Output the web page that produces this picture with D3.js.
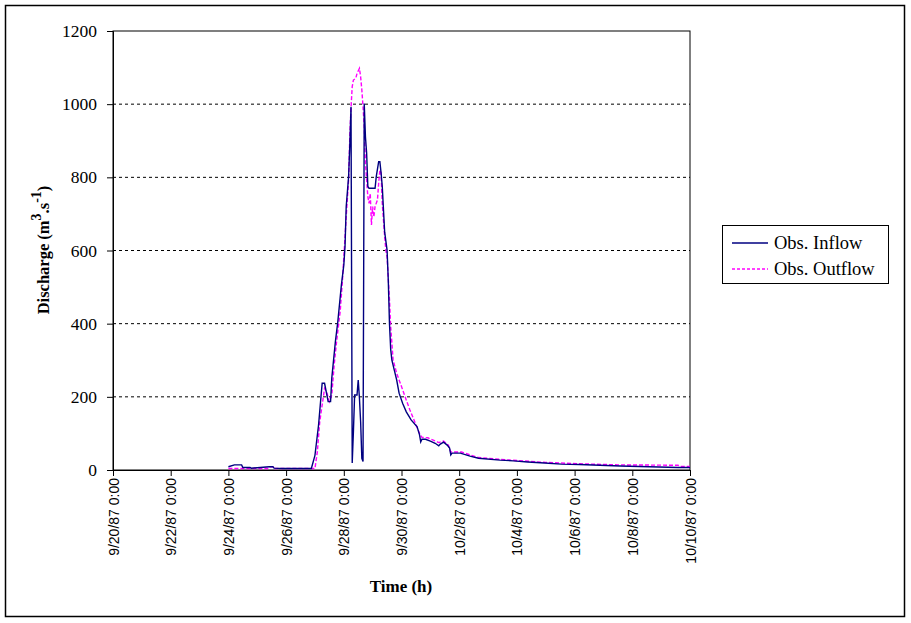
<!DOCTYPE html>
<html><head><meta charset="utf-8">
<script src="https://cdn.jsdelivr.net/npm/d3@7"></script>
<style>body{margin:0;background:#fff}</style>
</head><body>
<svg id="c" width="911" height="623"></svg>
<script>
// ---- data ----
const inflowTimes = ["9/24 0:00","9/24 5:00","9/24 11:00","9/24 12:00","9/24 18:00","9/24 19:00","9/25 10:00","9/25 13:00","9/25 14:00","9/25 21:00","9/26 21:00","9/27 0:00","9/27 3:00","9/27 5:00","9/27 6:00","9/27 8:00","9/27 11:00","9/27 13:00","9/27 14:00","9/27 17:00","9/27 19:00","9/27 22:00","9/28 0:00","9/28 1:00","9/28 2:00","9/28 4:00","9/28 5:00","9/28 6:00","9/28 7:00","9/28 8:00","9/28 9:00","9/28 11:00","9/28 12:00","9/28 13:00","9/28 14:00","9/28 15:00","9/28 16:00","9/28 17:00","9/28 18:00","9/28 19:00","9/28 20:00","9/28 21:00","9/29 2:00","9/29 3:00","9/29 5:00","9/29 6:00","9/29 7:00","9/29 8:00","9/29 9:00","9/29 10:00","9/29 12:00","9/29 13:00","9/29 14:00","9/29 15:00","9/29 16:00","9/29 18:00","9/29 20:00","9/29 22:00","9/30 1:00","9/30 4:00","9/30 8:00","9/30 13:00","9/30 15:00","9/30 16:00","9/30 17:00","9/30 20:00","10/1 0:00","10/1 4:00","10/1 7:00","10/1 8:00","10/1 11:00","10/1 14:00","10/1 16:00","10/1 17:00","10/1 18:00","10/2 1:00","10/2 9:00","10/2 16:00","10/3 10:00","10/3 21:00","10/4 9:00","10/4 23:00","10/5 13:00","10/6 4:00","10/7 14:00","10/9 14:00","10/10 0:00"];
const inflowValues = [9,14,14,7,7,5,9,9,5,4,4,40,123,200,237,237,187,187,251,351,405,506,560,610,720,802,890,993,19,105,205,205,246,197,132,32,23,1002,911,866,775,770,770,802,843,843,812,775,711,650,601,519,400,330,300,273,246,210,182,159,137,118,96,77,84,84,79,73,66,70,76,68,60,41,46,46,38,32,27,25,22,19,16,15,11,7,7];
const outflowTimes = ["9/24 0:00","9/25 9:00","9/25 10:00","9/25 13:00","9/25 14:00","9/27 0:00","9/27 2:00","9/27 4:00","9/27 6:00","9/27 8:00","9/27 10:00","9/27 12:00","9/27 14:00","9/27 16:00","9/27 18:00","9/27 21:00","9/27 23:00","9/28 0:00","9/28 2:00","9/28 4:00","9/28 5:00","9/28 6:00","9/28 7:00","9/28 8:00","9/28 10:00","9/28 11:00","9/28 13:00","9/28 14:00","9/28 15:00","9/28 16:00","9/28 17:00","9/28 18:00","9/28 19:00","9/28 20:00","9/28 21:00","9/28 22:00","9/28 23:00","9/29 0:00","9/29 1:00","9/29 2:00","9/29 4:00","9/29 5:00","9/29 6:00","9/29 7:00","9/29 8:00","9/29 10:00","9/29 11:00","9/29 12:00","9/29 14:00","9/29 15:00","9/29 17:00","9/29 20:00","9/30 0:00","9/30 3:00","9/30 7:00","9/30 11:00","9/30 15:00","9/30 17:00","9/30 22:00","10/1 7:00","10/1 11:00","10/1 15:00","10/1 17:00","10/2 2:00","10/2 16:00","10/3 10:00","10/4 23:00","10/6 4:00","10/7 12:00","10/9 14:00","10/9 16:00","10/10 0:00"];
const outflowValues = [4,4,9,9,4,4,50,132,178,223,210,187,205,287,351,433,524,580,692,793,911,990,1048,1066,1071,1084,1098,1075,1039,993,938,838,793,747,729,756,670,720,692,720,738,784,820,812,729,638,600,583,465,392,301,264,228,200,164,132,100,89,88,75,79,68,49,49,34,29,21,17,14,13,10,10];
const xTickLabels = ["9/20/87 0:00","9/22/87 0:00","9/24/87 0:00","9/26/87 0:00","9/28/87 0:00","9/30/87 0:00","10/2/87 0:00","10/4/87 0:00","10/6/87 0:00","10/8/87 0:00","10/10/87 0:00"];
const yTicks = [0,200,400,600,800,1000,1200];
const seriesNames = ["Obs. Inflow","Obs. Outflow"];

// ---- chart ----
const parse = s => { const [md, hm] = s.split(" "); const [m, d] = md.split("/").map(Number); const [h, mi] = hm.split(":").map(Number); return new Date(1987, m - 1, d, h, mi); };
const svg = d3.select("#c");
const L = 113, R = 690, T = 31, B = 470;
const x = d3.scaleTime().domain([new Date(1987,8,20), new Date(1987,9,10)]).range([L, R]);
const y = d3.scaleLinear().domain([0, 1200]).range([B, T]);
const serif = "'Liberation Serif', 'Times New Roman', serif";

svg.append("rect").attr("x",5.5).attr("y",5.5).attr("width",899).attr("height",611).attr("fill","none").attr("stroke","#000").attr("stroke-width",1.5);

// grid
svg.append("g").selectAll("line").data(yTicks.filter(v => v > 0 && v < 1200)).join("line")
  .attr("x1", L).attr("x2", R).attr("y1", d => y(d)).attr("y2", d => y(d))
  .attr("stroke", "#000").attr("stroke-dasharray", "3,3").attr("stroke-width", 1);

// plot frame
svg.append("rect").attr("x",L).attr("y",T).attr("width",R-L).attr("height",B-T).attr("fill","none").attr("stroke","#000").attr("stroke-width",1);

// y axis
const ya = svg.append("g").attr("transform",`translate(${L},0)`)
  .call(d3.axisLeft(y).tickValues(yTicks).tickFormat(d3.format("d")).tickSize(6).tickPadding(10));
ya.select(".domain").attr("stroke","#000");
ya.selectAll("text").attr("font-family",serif).attr("font-size","17.5px").attr("fill","#000");

// x axis
const xDates = xTickLabels.map(s => { const [m,d,yy] = s.split(" ")[0].split("/").map(Number); return new Date(1900+yy, m-1, d); });
const xa = svg.append("g").attr("transform",`translate(0,${B})`)
  .call(d3.axisBottom(x).tickValues(xDates).tickSize(6).tickFormat((d,i) => xTickLabels[i]));
xa.select(".domain").attr("stroke","#000");
xa.selectAll("text").attr("font-family","'Liberation Sans', Arial, sans-serif").attr("font-size","14px").attr("fill","#000")
  .attr("transform","rotate(-90)").attr("text-anchor","end").attr("dx","-8px").attr("dy","0").attr("x",0).attr("y",0)
  .style("dominant-baseline","central");

// lines
const line = d3.line().x(d => x(d.t)).y(d => y(d.v));
const inflow = inflowTimes.map((t,i) => ({t: parse(t), v: inflowValues[i]}));
const outflow = outflowTimes.map((t,i) => ({t: parse(t), v: outflowValues[i]}));
svg.append("path").datum(outflow).attr("d", line).attr("fill","none").attr("stroke","#ff00ff").attr("stroke-width",1.4).attr("stroke-dasharray","4,2");
svg.append("path").datum(inflow).attr("d", line).attr("fill","none").attr("stroke","#000080").attr("stroke-width",1.4);

// axis titles
svg.append("text").attr("x", 401).attr("y", 592).attr("text-anchor","middle")
  .attr("font-family",serif).attr("font-weight","bold").attr("font-size","17px").text("Time (h)");
const yt = svg.append("text").attr("transform","translate(49,250) rotate(-90)").attr("text-anchor","middle")
  .attr("font-family",serif).attr("font-weight","bold").attr("font-size","16.5px");
yt.append("tspan").text("Discharge (m");
yt.append("tspan").attr("dy","-8").attr("font-size","14px").text("3");
yt.append("tspan").attr("dy","8").text(".s");
yt.append("tspan").attr("dy","-8").attr("font-size","14px").text("-1");
yt.append("tspan").attr("dy","8").text(")");

// legend
svg.append("rect").attr("x",722.5).attr("y",225.5).attr("width",166).attr("height",58).attr("fill","#fff").attr("stroke","#000").attr("stroke-width",1);
const lg = svg.append("g").selectAll("g").data(seriesNames).join("g").attr("transform",(d,i)=>`translate(732,${243+i*26})`);
lg.append("line").attr("x1",0).attr("x2",36).attr("y1",0).attr("y2",0)
  .attr("stroke",(d,i)=> i===0 ? "#000080" : "#ff00ff").attr("stroke-width",1.4)
  .attr("stroke-dasharray",(d,i)=> i===0 ? null : "3,2");
lg.append("text").attr("x",42).attr("y",6).attr("font-family",serif).attr("font-size","18.5px").text(d=>d);
</script>
</body></html>
